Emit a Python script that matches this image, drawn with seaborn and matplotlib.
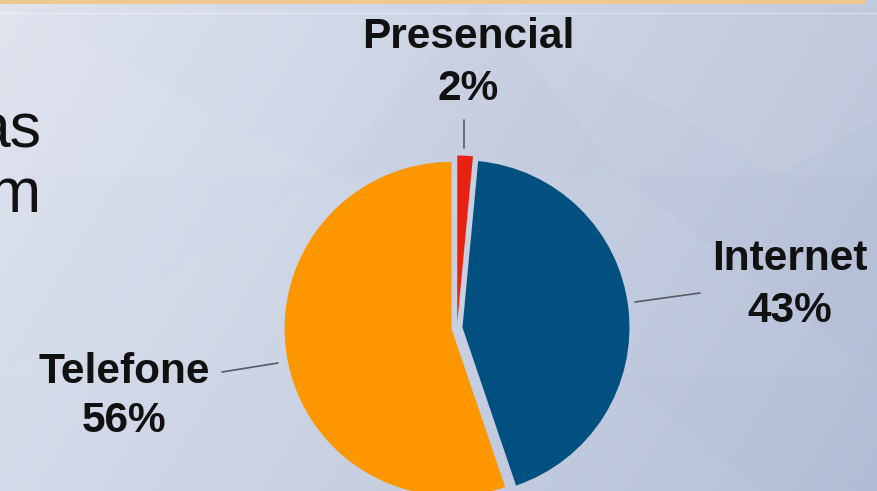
import numpy as np
import matplotlib
matplotlib.use("Agg")
import matplotlib.pyplot as plt
from matplotlib.patches import Polygon, Rectangle
import seaborn as sns

# ---- data ----
categories = ["Presencial", "Internet", "Telefone"]
shares = [1.5, 43.3, 55.2]            # slice sizes
pct_labels = ["2%", "43%", "56%"]     # printed percentages
colors = ["#E8220F", "#02507F", "#FE9600"]

sns.set_theme(style="white")
plt.rcParams["font.family"] = ["Liberation Sans", "DejaVu Sans"]

W, H = 877, 491
fig = plt.figure(figsize=(W / 100, H / 100), dpi=100)
ax = fig.add_axes([0, 0, 1, 1])

# ---- background gradient ----
yy, xx = np.mgrid[0:H, 0:W]
t = (xx / W) * 0.75 + (yy / H) * 0.25
c0 = np.array([0xDE, 0xE3, 0xEE]) / 255
c1 = np.array([0xB4, 0xBF, 0xD7]) / 255
img = c0[None, None, :] * (1 - t[..., None]) + c1[None, None, :] * t[..., None]
ax.imshow(img, extent=[0, W, H, 0], aspect="auto", zorder=0)

# faint faceted triangles
tris = [
    ([(480, 0), (1080, 0), (780, 175)], "white", 0.05),
    ([(0, 175), (330, 175), (0, 0)], "white", 0.06),
    ([(330, 175), (620, 175), (480, 0)], "#9aa6c4", 0.05),
    ([(0, 375), (330, 175), (620, 375)], "white", 0.035),
    ([(620, 175), (877, 175), (877, 375)], "#8f9cbd", 0.05),
    ([(620, 375), (877, 375), (877, 491), (760, 491)], "#8f9cbd", 0.04),
]
for pts, col, a in tris:
    ax.add_patch(Polygon(pts, closed=True, facecolor=col, edgecolor="none", alpha=a, zorder=0.5))
ax.add_patch(Rectangle((0, 0), 866, 3.5, facecolor="#EFC890", edgecolor="none", zorder=1))
ax.plot([0, W], [13, 13], color="white", lw=0.8, alpha=0.4, zorder=1)

# ---- pie ----
cx, cy, R = 457, 328, 167
gap = 5.5  # explode distance in data (pixel) units
ax.pie(shares, colors=colors, startangle=-90, counterclock=True,
       radius=R, center=(cx, cy), explode=[gap] * len(shares),
       wedgeprops=dict(edgecolor="none"), frame=True)

ax.set_xlim(0, W)
ax.set_ylim(H, 0)
ax.axis("off")

# ---- labels ----
fs = 30.5
lab_pos = {
    "Presencial": (468, 48, 100),
    "Internet": (790, 270, 322),
    "Telefone": (124, 383, 432),
}
for name, pct in zip(categories, pct_labels):
    x, y1, y2 = lab_pos[name]
    ax.text(x, y1, name, ha="center", va="baseline", fontsize=fs,
            fontweight="bold", color="#111111", zorder=5)
    ax.text(x, y2, pct, ha="center", va="baseline", fontsize=fs,
            fontweight="bold", color="#111111", zorder=5)

# leader lines
lc = "#555a66"
ax.plot([464, 464], [120, 148], color=lc, lw=1.2, zorder=4)
ax.plot([635, 700], [302, 293], color=lc, lw=1.2, zorder=4)
ax.plot([222, 278], [372, 363], color=lc, lw=1.2, zorder=4)

# fragments of slide text at left edge (cut off in the original slide crop)
ax.text(41, 148, "as", ha="right", va="baseline", fontsize=45, color="#111111", zorder=5)
ax.text(41, 212, "m", ha="right", va="baseline", fontsize=45, color="#111111", zorder=5)

fig.savefig("out.png", dpi=100)
